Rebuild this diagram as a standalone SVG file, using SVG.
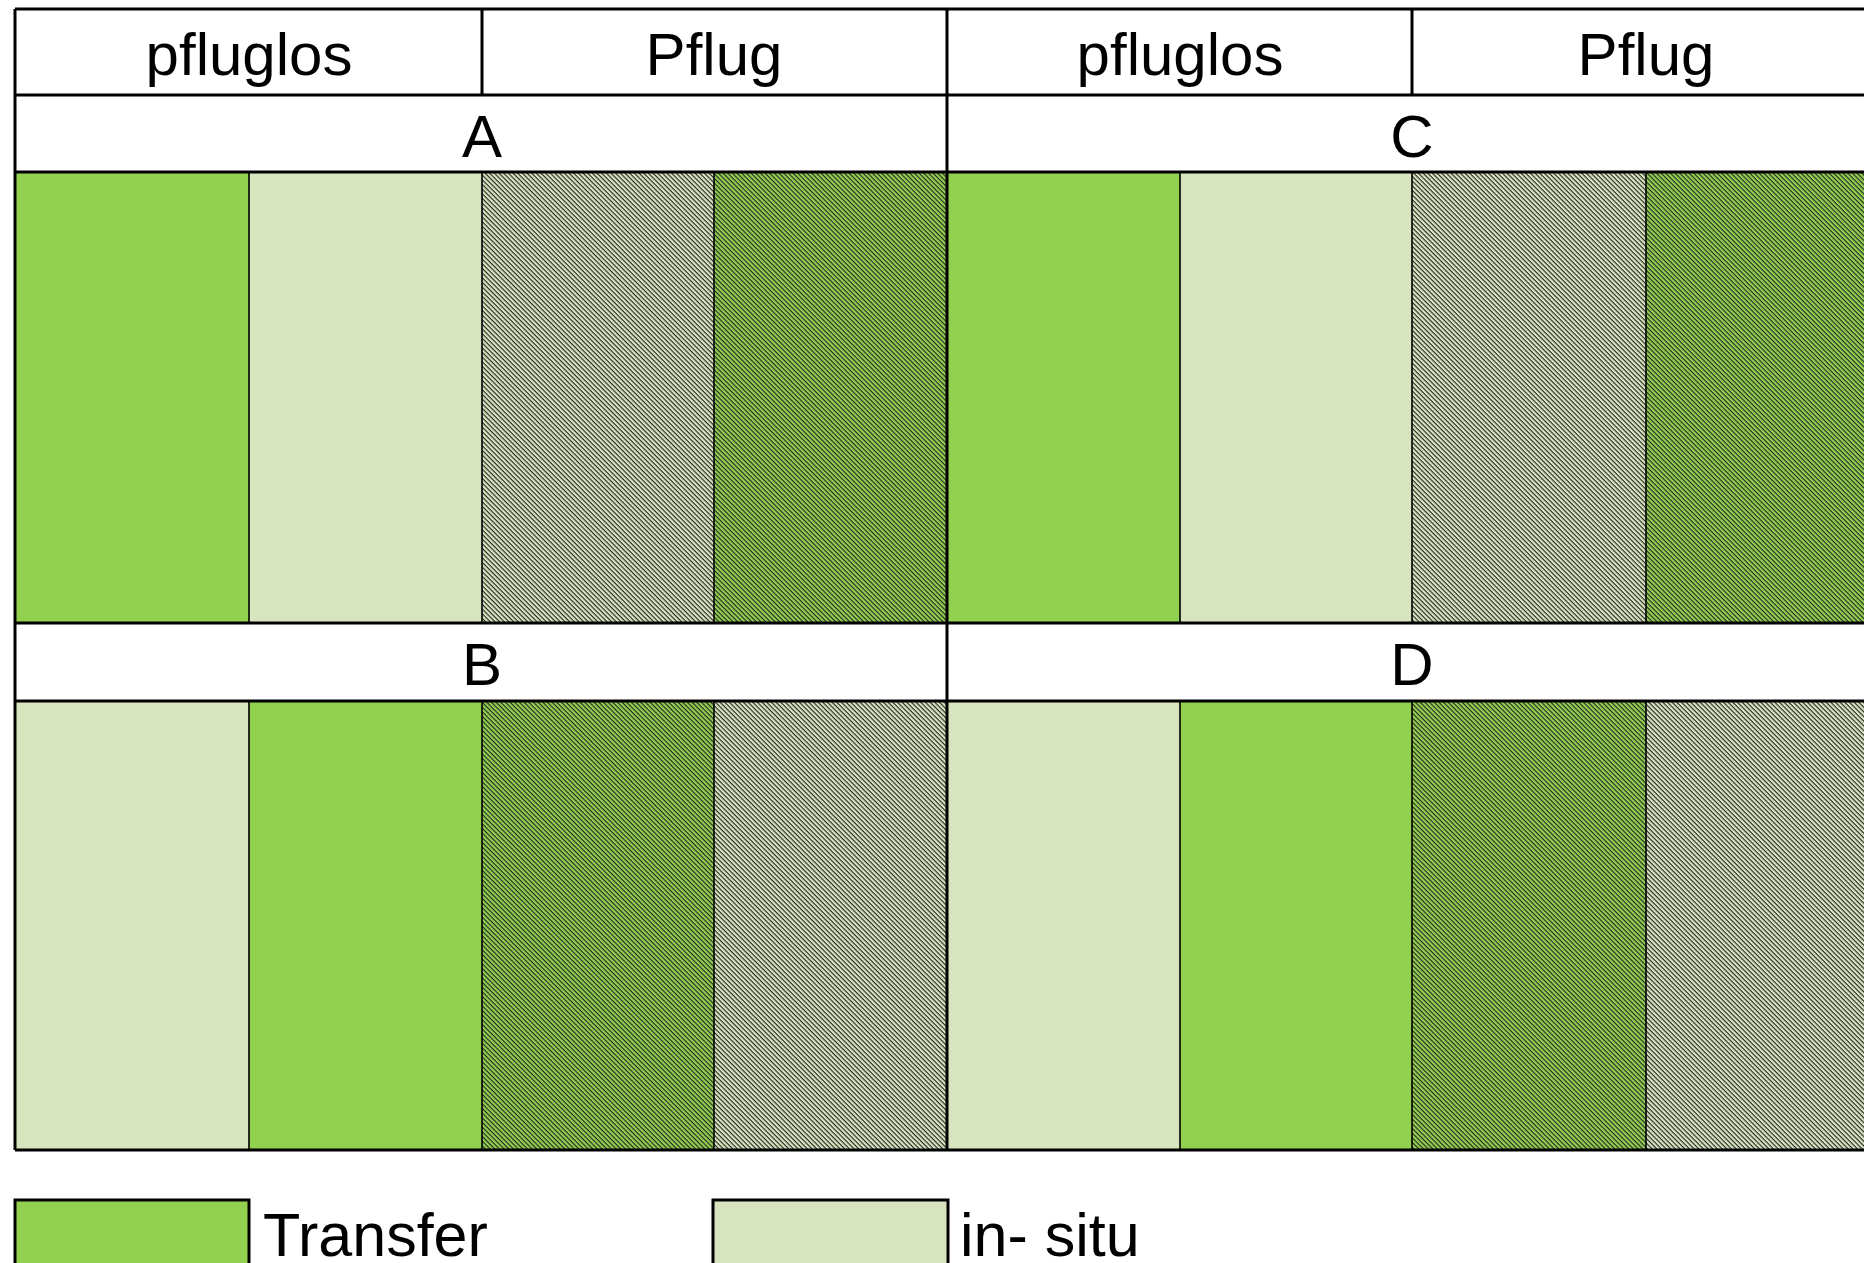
<svg xmlns="http://www.w3.org/2000/svg" width="1864" height="1263" viewBox="0 0 1864 1263">
<style>
.t{font-family:"Liberation Sans",Arial,sans-serif;font-size:60px;fill:#000;text-anchor:middle}
.lg{font-family:"Liberation Sans",Arial,sans-serif;font-size:61px;fill:#000}
.g{fill:#92D050}
.l{fill:#D7E4BD}
.hl{fill:url(#hatchL)}
.hg{fill:url(#hatchG)}
.thick{stroke:#000;stroke-width:3;fill:none}
.thin{stroke:#000;stroke-width:1.6;fill:none}
</style>
<defs>
<pattern id="hatchL" patternUnits="userSpaceOnUse" width="10" height="3.3" patternTransform="rotate(45)">
<rect width="10" height="3.3" fill="#D7E4BD"/>
<rect width="10" height="1.1" fill="#222"/>
</pattern>
<pattern id="hatchG" patternUnits="userSpaceOnUse" width="10" height="3.3" patternTransform="rotate(45)">
<rect width="10" height="3.3" fill="#92D050"/>
<rect width="10" height="1.1" fill="#222"/>
</pattern>
</defs>
<rect width="1864" height="1263" fill="#fff"/>

<g id="headers">
<text class="t" x="249" y="75">pfluglos</text>
<text class="t" x="714" y="75">Pflug</text>
<text class="t" x="1180" y="75">pfluglos</text>
<text class="t" x="1646" y="75">Pflug</text>
</g>

<g id="block-A">
<text class="t" x="482" y="157">A</text>
<rect class="g" x="15" y="172" width="234" height="451"/>
<rect class="l" x="249" y="172" width="233" height="451"/>
<rect class="hl" x="482" y="172" width="232" height="451"/>
<rect class="hg" x="714" y="172" width="233" height="451"/>
</g>
<g id="block-C">
<text class="t" x="1412" y="157">C</text>
<rect class="g" x="947" y="172" width="233" height="451"/>
<rect class="l" x="1180" y="172" width="232" height="451"/>
<rect class="hl" x="1412" y="172" width="234" height="451"/>
<rect class="hg" x="1646" y="172" width="233" height="451"/>
</g>
<g id="block-B">
<text class="t" x="482" y="685">B</text>
<rect class="l" x="15" y="701" width="234" height="449"/>
<rect class="g" x="249" y="701" width="233" height="449"/>
<rect class="hg" x="482" y="701" width="232" height="449"/>
<rect class="hl" x="714" y="701" width="233" height="449"/>
</g>
<g id="block-D">
<text class="t" x="1412" y="685">D</text>
<rect class="l" x="947" y="701" width="233" height="449"/>
<rect class="g" x="1180" y="701" width="232" height="449"/>
<rect class="hg" x="1412" y="701" width="234" height="449"/>
<rect class="hl" x="1646" y="701" width="233" height="449"/>
</g>

<g id="grid-lines">
<path class="thick" d="M15 9H1870M15 95H1870M15 172H1870M15 623H1870M15 701H1870M15 1150H1870"/>
<path class="thick" d="M15 9V1150M482 9V95M947 9V1150M1412 9V95"/>
<path class="thin" d="M249 172V623M482 172V623M714 172V623M1180 172V623M1412 172V623M1646 172V623"/>
<path class="thin" d="M249 701V1150M482 701V1150M714 701V1150M1180 701V1150M1412 701V1150M1646 701V1150"/>
</g>

<g id="legend-transfer">
<rect class="g" x="15" y="1200" width="234" height="80" stroke="#000" stroke-width="3"/>
<text class="lg" x="263" y="1256">Transfer</text>
</g>
<g id="legend-insitu">
<rect class="l" x="713" y="1200" width="235" height="80" stroke="#000" stroke-width="3"/>
<text class="lg" x="960" y="1256">in- situ</text>
</g>
</svg>
